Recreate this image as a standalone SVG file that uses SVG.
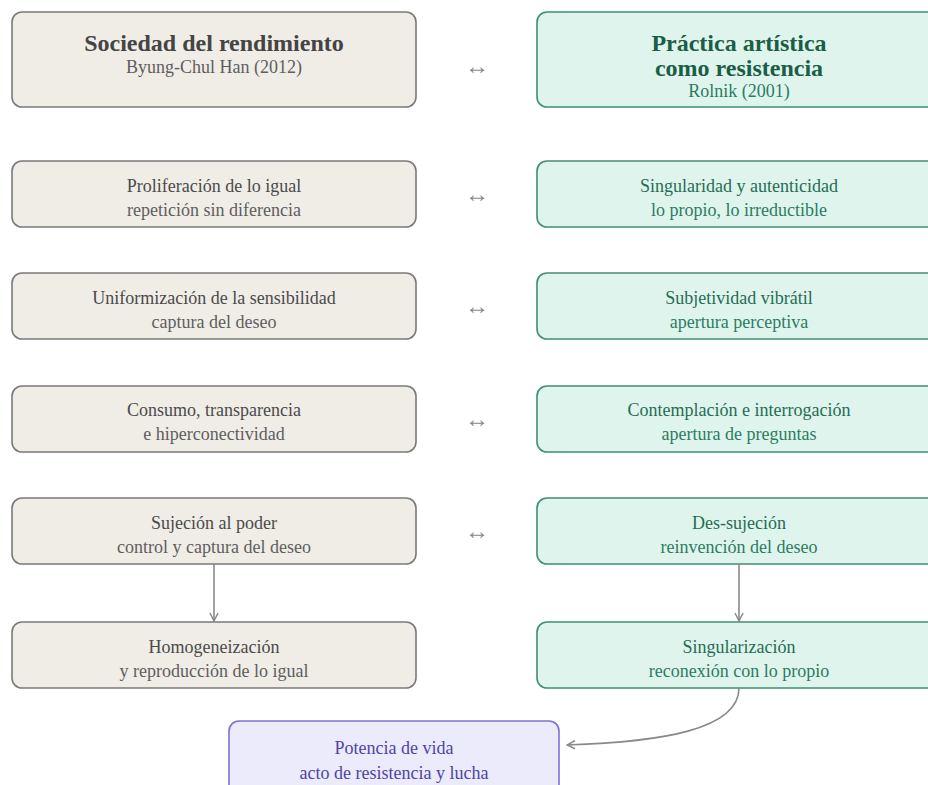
<svg xmlns="http://www.w3.org/2000/svg" width="928" height="785" viewBox="0 0 928 785">
<style>
text{font-family:"Liberation Serif","Times New Roman",serif;text-anchor:middle}
.l rect{fill:#f0ede7;stroke:#7a7a7a;stroke-width:1.6}
.r rect{fill:#e0f4ee;stroke:#3f8f70;stroke-width:1.6}
.p rect{fill:#ecebfb;stroke:#7b73d6;stroke-width:1.6}
.l text{fill:#4a4a4a;font-size:18px}
.l .s{fill:#5e5e5e}
.r text{fill:#1f6e52;font-size:18px}
.r .s{fill:#2a7d5f}
.p text{fill:#4b45a8;font-size:18px}
.l .t,.r .t{font-size:24px;font-weight:bold}
.l .t{fill:#444}
.r .t{fill:#1a5e45}
.sym{fill:#8a8a8a;font-size:24px}
.c{fill:none;stroke:#8a8a8a;stroke-width:1.6}
</style>
<defs>
<marker id="a" viewBox="0 0 10 10" refX="9" refY="5" markerWidth="10" markerHeight="10" markerUnits="userSpaceOnUse" orient="auto">
<path d="M1,1 L9,5 L1,9" fill="none" stroke="#8a8a8a" stroke-width="1.5"/>
</marker>
</defs>
<g id="n-sociedad" class="l"><rect x="12" y="12" width="404" height="95" rx="10"/><text class="t" x="214" y="51">Sociedad del rendimiento</text><text class="s" x="214" y="73">Byung-Chul Han (2012)</text></g>
<g id="n-practica" class="r"><rect x="537" y="12" width="404" height="95" rx="10"/><text class="t" x="739" y="51">Práctica artística</text><text class="t" x="739" y="76">como resistencia</text><text class="s" x="739" y="97">Rolnik (2001)</text></g>

<g id="n-proliferacion" class="l"><rect x="12" y="161" width="404" height="66" rx="10"/><text x="214" y="192">Proliferación de lo igual</text><text class="s" x="214" y="216">repetición sin diferencia</text></g>
<g id="n-singularidad" class="r"><rect x="537" y="161" width="404" height="66" rx="10"/><text x="739" y="192">Singularidad y autenticidad</text><text class="s" x="739" y="216">lo propio, lo irreductible</text></g>

<g id="n-uniformizacion" class="l"><rect x="12" y="273" width="404" height="66" rx="10"/><text x="214" y="304">Uniformización de la sensibilidad</text><text class="s" x="214" y="328">captura del deseo</text></g>
<g id="n-subjetividad" class="r"><rect x="537" y="273" width="404" height="66" rx="10"/><text x="739" y="304">Subjetividad vibrátil</text><text class="s" x="739" y="328">apertura perceptiva</text></g>

<g id="n-consumo" class="l"><rect x="12" y="386" width="404" height="66" rx="10"/><text x="214" y="416">Consumo, transparencia</text><text class="s" x="214" y="440">e hiperconectividad</text></g>
<g id="n-contemplacion" class="r"><rect x="537" y="386" width="404" height="66" rx="10"/><text x="739" y="416">Contemplación e interrogación</text><text class="s" x="739" y="440">apertura de preguntas</text></g>

<g id="n-sujecion" class="l"><rect x="12" y="498" width="404" height="66" rx="10"/><text x="214" y="529">Sujeción al poder</text><text class="s" x="214" y="553">control y captura del deseo</text></g>
<g id="n-dessujecion" class="r"><rect x="537" y="498" width="404" height="66" rx="10"/><text x="739" y="529">Des-sujeción</text><text class="s" x="739" y="553">reinvención del deseo</text></g>

<g id="n-homogeneizacion" class="l"><rect x="12" y="622" width="404" height="66" rx="10"/><text x="214" y="653">Homogeneización</text><text class="s" x="214" y="677">y reproducción de lo igual</text></g>
<g id="n-singularizacion" class="r"><rect x="537" y="622" width="404" height="66" rx="10"/><text x="739" y="653">Singularización</text><text class="s" x="739" y="677">reconexión con lo propio</text></g>

<g id="n-potencia" class="p"><rect x="229" y="721" width="330" height="80" rx="10"/><text x="394" y="754">Potencia de vida</text><text x="394" y="779">acto de resistencia y lucha</text></g>

<g id="connectors">
<text class="sym" x="477" y="74">↔</text>
<text class="sym" x="477" y="202">↔</text>
<text class="sym" x="477" y="314">↔</text>
<text class="sym" x="477" y="427">↔</text>
<text class="sym" x="477" y="539">↔</text>
<path class="c" d="M214,564 L214,621" marker-end="url(#a)"/>
<path class="c" d="M739,564 L739,621" marker-end="url(#a)"/>
<path class="c" d="M739,688 C739,730 660,742 567,745" marker-end="url(#a)"/>
</g>
</svg>
